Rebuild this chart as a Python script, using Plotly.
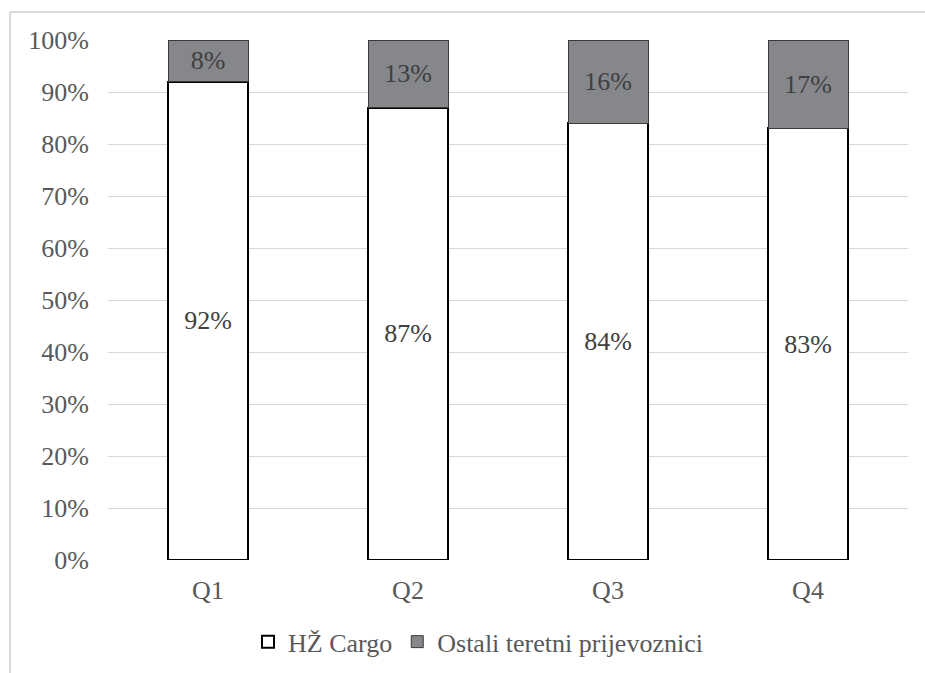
import plotly.graph_objects as go

categories = ["Q1", "Q2", "Q3", "Q4"]
hz_cargo = [92, 87, 84, 83]
ostali = [8, 13, 16, 17]
tick_vals = [0, 10, 20, 30, 40, 50, 60, 70, 80, 90, 100]
tick_text = [f"{v}%" for v in tick_vals]

FONT = "Liberation Serif, Times New Roman, serif"

fig = go.Figure()
fig.add_trace(go.Bar(
    x=categories, y=hz_cargo, name="HŽ Cargo",
    marker=dict(color="white", line=dict(color="black", width=2)),
    text=[f"{v}%" for v in hz_cargo], textposition="inside",
    insidetextanchor="middle",
    textfont=dict(family=FONT, size=26, color="#404040"),
    width=0.4,
))
fig.add_trace(go.Bar(
    x=categories, y=ostali, name="Ostali teretni prijevoznici",
    marker=dict(color="#86878b", line=dict(color="#3a3a3a", width=1)),
    text=[f"{v}%" for v in ostali], textposition="inside",
    insidetextanchor="middle",
    textfont=dict(family=FONT, size=26, color="#3f3f3f"),
    width=0.4,
))

fig.update_layout(
    barmode="stack",
    width=925, height=673,
    margin=dict(l=108, r=17, t=40, b=113, autoexpand=False),
    paper_bgcolor="white", plot_bgcolor="white",
    font=dict(family=FONT, size=26, color="#595959"),
    uniformtext=dict(mode="show", minsize=10),
    legend=dict(orientation="h", x=0.4625, xanchor="center", y=-0.112, yanchor="top",
                font=dict(family=FONT, size=26, color="#595959"),
                traceorder="normal", itemwidth=30),
    xaxis=dict(showgrid=False, showline=False, ticks="", ticklabelstandoff=12,
               tickfont=dict(size=26, color="#595959")),
    yaxis=dict(range=[0, 100], tickvals=tick_vals, ticktext=tick_text,
               showgrid=True, gridcolor="#d9d9d9", gridwidth=1,
               zeroline=False, showline=False, ticks="", ticklabelstandoff=18,
               tickfont=dict(size=26, color="#595959")),
    shapes=[
        dict(type="line", xref="paper", yref="paper",
             x0=(10 - 108) / 800, x1=1.03, y0=(560 - 12) / 520, y1=(560 - 12) / 520,
             line=dict(color="#d9d9d9", width=2)),
        dict(type="line", xref="paper", yref="paper",
             x0=(10 - 108) / 800, x1=(10 - 108) / 800, y0=(560 - 12) / 520, y1=-0.3,
             line=dict(color="#d9d9d9", width=2)),
    ],
)

fig.write_html("out.html")
